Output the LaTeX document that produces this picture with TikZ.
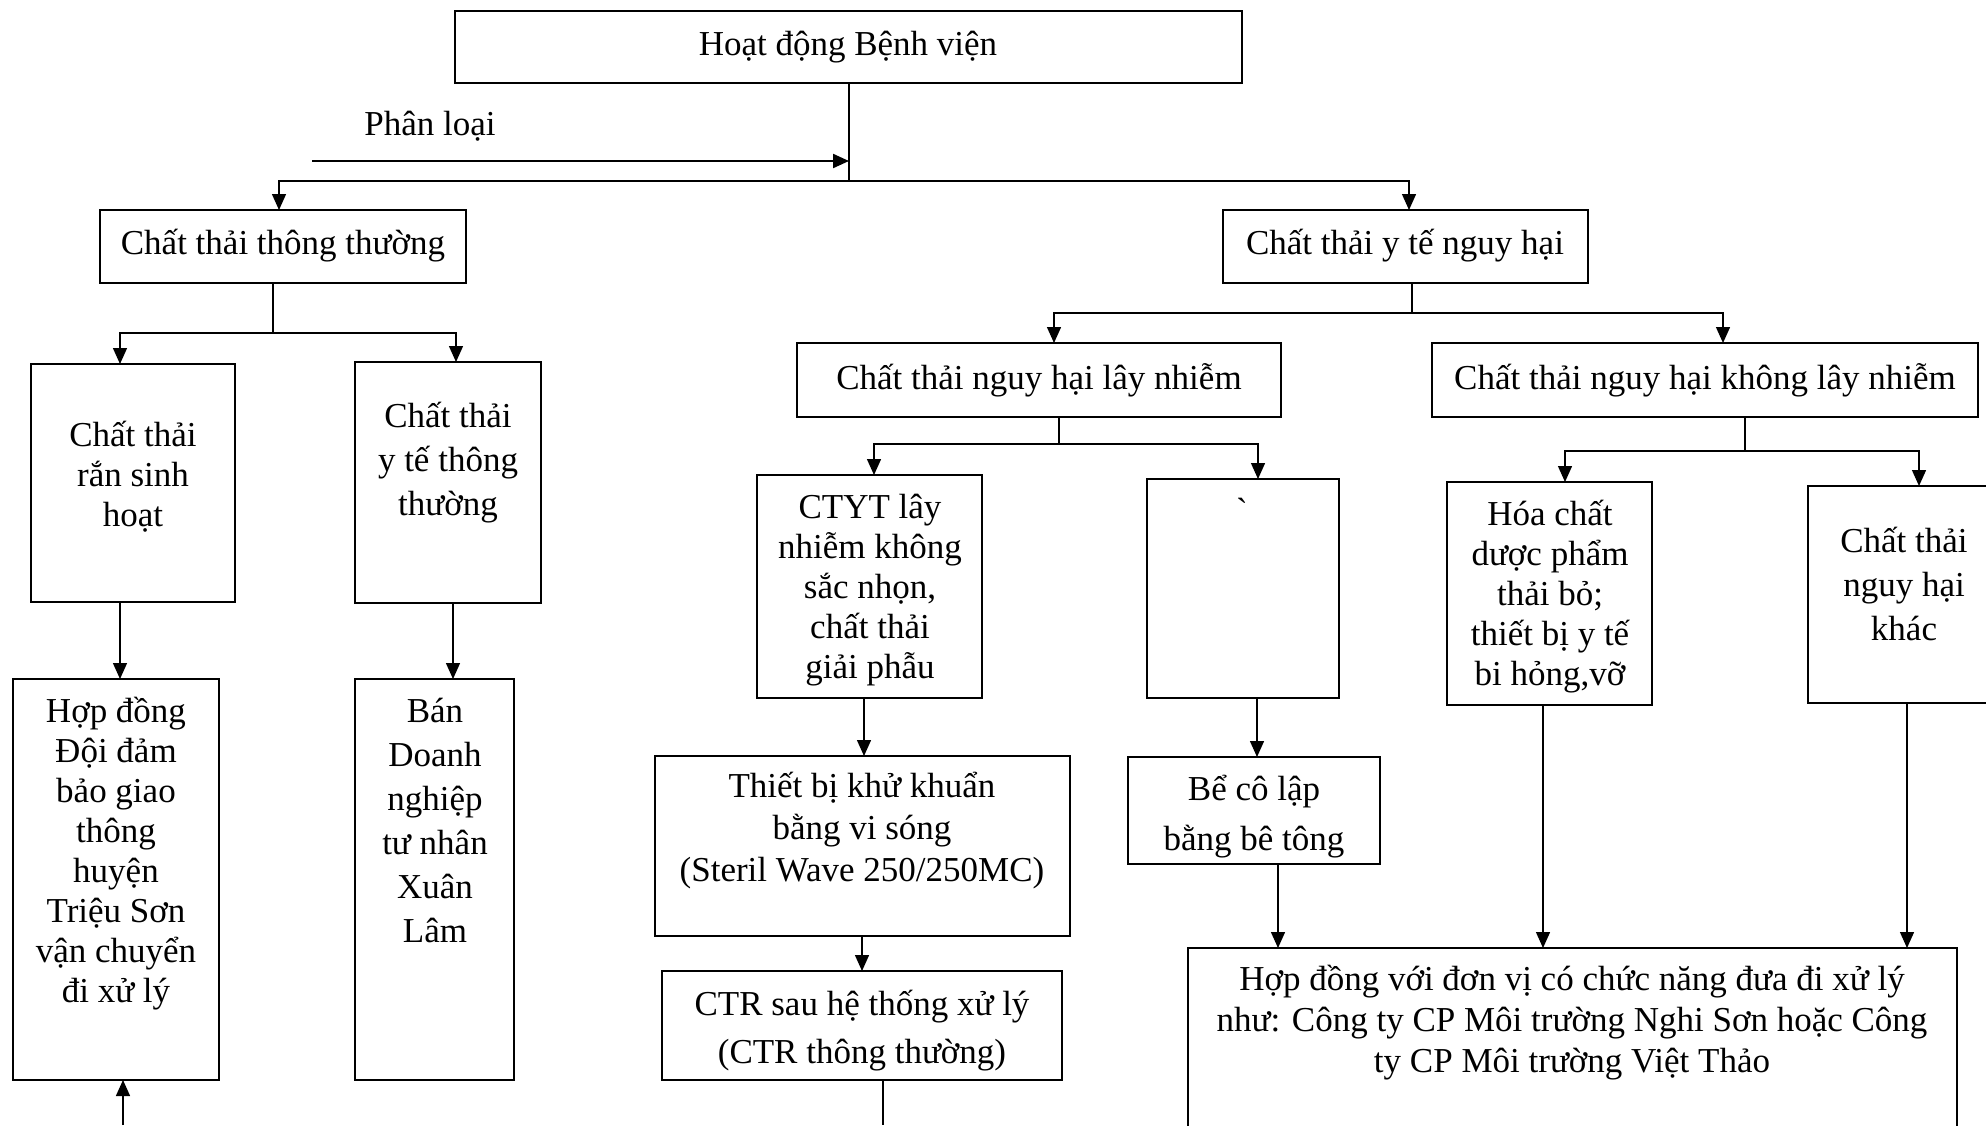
\documentclass[tikz,border=0pt]{standalone}
\usepackage{fontspec}
\setmainfont{Liberation Serif}
\usetikzlibrary{arrows.meta}
% rectangle from its top-left to its bottom-right corner (picture units)
\newcommand\wastebox[5]{%
  \node[box, anchor=north west,
        minimum width={(#4-#2)*0.5pt}, minimum height={(#5-#3)*0.5pt}]
        (#1) at (#2,#3) {};}
\begin{document}
\begin{tikzpicture}[x=0.5pt,y=-0.5pt,
  box/.style={draw, line width=0.9pt, inner sep=0pt, outer sep=0pt},
  txt/.style={align=center, inner sep=0pt, font=\fontsize{17.5}{#1}\selectfont},
  txt/.default=20,
  link/.style={line width=0.7pt},
  arr/.style={link, -{Triangle[length=8pt,width=7pt]}},
]
\useasboundingbox (0,0) rectangle (1986,1125);
\clip (0,0) rectangle (1986,1125);

% ---- boxes ----
\wastebox{top}{455}{11}{1242}{83}
\wastebox{ctt}{100}{210}{466}{283}
\wastebox{cnh}{1223}{210}{1588}{283}
\wastebox{rsh}{31}{364}{235}{602}
\wastebox{ytt}{355}{362}{541}{603}
\wastebox{hd1}{13}{679}{219}{1080}
\wastebox{ban}{355}{679}{514}{1080}
\wastebox{lay}{797}{343}{1281}{417}
\wastebox{khong}{1432}{343}{1978}{417}
\wastebox{ctyt}{757}{475}{982}{698}
\wastebox{emp}{1147}{479}{1339}{698}
\wastebox{hoa}{1447}{482}{1652}{705}
\wastebox{khac}{1808}{486}{2010}{703}
\wastebox{tb}{655}{756}{1070}{936}
\wastebox{be}{1128}{757}{1380}{864}
\wastebox{ctr}{662}{971}{1062}{1080}
\wastebox{hdv}{1188}{948}{1957}{1160}

% ---- texts ----
\node[txt] (top-t) at (848,47) {Hoạt động Bệnh viện};
\node[txt, anchor=base] (pl-t) at (430,135) {Phân loại};
\node[txt] (ctt-t) at (283,246) {Chất thải thông thường};
\node[txt] (cnh-t) at (1405,246) {Chất thải y tế nguy hại};
\node[txt] (rsh-t) at (133,477) {Chất thải\\rắn sinh\\hoạt};
\node[txt=22] (ytt-t) at (448,463) {Chất thải\\y tế thông\\thường};
\node[txt] (hd1-t) at (116,854) {Hợp đồng\\Đội đảm\\bảo giao\\thông\\huyện\\Triệu Sơn\\vận chuyển\\đi xử lý};
\node[txt=22] (ban-t) at (435,820) {Bán\\Doanh\\nghiệp\\tư nhân\\Xuân\\Lâm};
\node[txt] (lay-t) at (1039,380) {Chất thải nguy hại lây nhiễm};
\node[txt] (khong-t) at (1705,380) {Chất thải nguy hại không lây nhiễm};
\node[txt] (ctyt-t) at (870,590) {CTYT lây\\nhiễm không\\sắc nhọn,\\chất thải\\giải phẫu};
\node[txt] (emp-t) at (1242,510) {\addfontfeatures{Ligatures=TeXOff}\symbol{96}};
\node[txt] (hoa-t) at (1550,597) {Hóa chất\\dược phẩm\\thải bỏ;\\thiết bị y tế\\bi hỏng,vỡ};
\node[txt=22] (khac-t) at (1904,584) {Chất thải\\nguy hại\\khác};
\node[txt=21] (tb-t) at (862,831) {Thiết bị khử khuẩn\\bằng vi sóng\\(Steril Wave 250/250MC)};
\node[txt=25] (be-t) at (1254,817) {Bể cô lập\\bằng bê tông};
\node[txt=24] (ctr-t) at (862,1031) {CTR sau hệ thống xử lý\\(CTR thông thường)};
\node[txt=20.5] (hdv-t) at (1572,1023) {Hợp đồng với đơn vị có chức năng đưa đi xử lý\\như: Công ty CP Môi trường Nghi Sơn hoặc Công\\ty CP Môi trường Việt Thảo};

% ---- connectors ----
\coordinate (j0) at (849,181);
\draw[link] (top.south -| j0) -- (j0);
\draw[arr] (j0) -| (ctt.north -| 279,0);
\draw[arr] (j0) -| (cnh.north -| 1409,0);
\coordinate (pl) at (312,161);
\draw[arr, line width=1.1pt] (pl) -- (pl -| j0);

\coordinate (j1) at (273,333);
\draw[link] (ctt.south -| j1) -- (j1);
\draw[arr] (j1) -| (rsh.north -| 120,0);
\draw[arr] (j1) -| (ytt.north -| 456,0);
\draw[arr] (rsh.south -| 120,0) -- (hd1.north -| 120,0);
\draw[arr] (ytt.south -| 453,0) -- (ban.north -| 453,0);
\coordinate (inL) at (123,1125);
\draw[arr] (inL) -- (hd1.south -| inL);

\coordinate (j2) at (1412,313);
\draw[link] (cnh.south -| j2) -- (j2);
\draw[arr] (j2) -| (lay.north -| 1054,0);
\draw[arr] (j2) -| (khong.north -| 1723,0);

\coordinate (j3) at (1059,444);
\draw[link] (lay.south -| j3) -- (j3);
\draw[arr] (j3) -| (ctyt.north -| 874,0);
\draw[arr] (j3) -| (emp.north -| 1258,0);
\draw[arr] (ctyt.south -| 864,0) -- (tb.north -| 864,0);
\draw[arr] (emp.south -| 1257,0) -- (be.north -| 1257,0);
\draw[arr] (tb.south -| 862,0) -- (ctr.north -| 862,0);
\coordinate (outC) at (883,1125);
\draw[link] (ctr.south -| outC) -- (outC);

\coordinate (j4) at (1745,451);
\draw[link] (khong.south -| j4) -- (j4);
\draw[arr] (j4) -| (hoa.north -| 1565,0);
\draw[arr] (j4) -| (khac.north -| 1919,0);
\draw[arr] (be.south -| 1278,0) -- (hdv.north -| 1278,0);
\draw[arr] (hoa.south -| 1543,0) -- (hdv.north -| 1543,0);
\draw[arr] (khac.south -| 1907,0) -- (hdv.north -| 1907,0);
\end{tikzpicture}
\end{document}
